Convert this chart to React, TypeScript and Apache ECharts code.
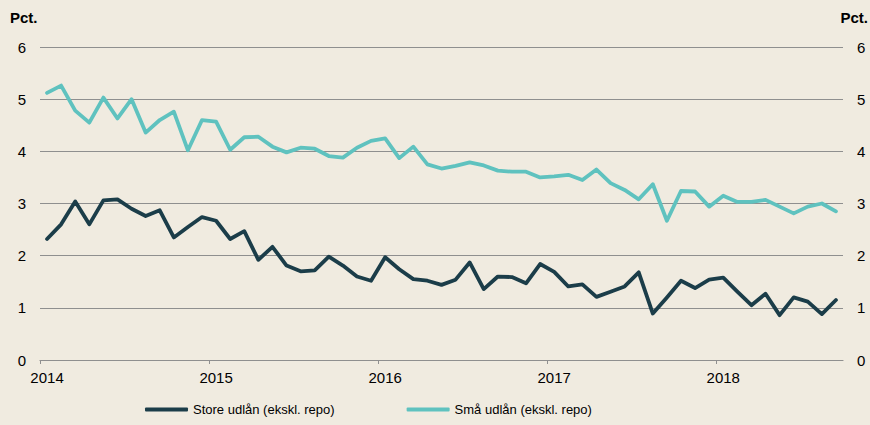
import React, { useEffect, useRef } from "react";
import * as echarts from "echarts";

const startYear = 2014;
const yearTicks = [0, 12, 24, 36, 48];
const yearLabelPos = [0.5, 12.5, 24.5, 36.5, 48.5];

const storeUdlaan = [
  2.32, 2.6, 3.04, 2.6, 3.06, 3.08, 2.9, 2.76, 2.87, 2.35, 2.55, 2.74,
  2.67, 2.32, 2.47, 1.92, 2.17, 1.81, 1.7, 1.72, 1.98, 1.81, 1.6, 1.52,
  1.97, 1.74, 1.55, 1.52, 1.44, 1.54, 1.87, 1.36, 1.6, 1.59, 1.47, 1.84,
  1.69, 1.41, 1.45, 1.21, 1.31, 1.41, 1.68, 0.89, 1.2, 1.52, 1.38, 1.54,
  1.58, 1.31, 1.05, 1.27, 0.86, 1.2, 1.12, 0.88, 1.15,
];

const smaaUdlaan = [
  5.12, 5.26, 4.78, 4.55, 5.03, 4.63, 5.0, 4.36, 4.6, 4.76, 4.02, 4.6,
  4.57, 4.03, 4.27, 4.28, 4.09, 3.98, 4.07, 4.05, 3.91, 3.88, 4.07, 4.2,
  4.25, 3.87, 4.09, 3.75, 3.67, 3.72, 3.79, 3.73, 3.63, 3.61, 3.61, 3.5,
  3.52, 3.55, 3.45, 3.65, 3.39, 3.26, 3.08, 3.37, 2.67, 3.24, 3.23, 2.94,
  3.15, 3.03, 3.03, 3.07, 2.94, 2.81, 2.94, 3.0, 2.85,
];

const seriesNames = ["Store udlån (ekskl. repo)", "Små udlån (ekskl. repo)"];
const unitLabel = "Pct.";

const FONT = "'Liberation Sans', Arial, sans-serif";
const DARK = "#1b3d49";
const TEAL = "#5fc2bf";
const GRID = "#8f8f8f";

export default function App() {
  const ref = useRef<HTMLDivElement>(null);

  useEffect(() => {
    if (!ref.current) return;
    const chart = echarts.init(ref.current, undefined, { renderer: "svg" });
    const nMonths = storeUdlaan.length;
    const toPairs = (arr: number[]) => arr.map((v, i) => [i + 0.5, v]);

    const yAxisCommon = {
      type: "value" as const,
      min: 0,
      max: 6,
      interval: 1,
      axisLine: { show: false },
      axisTick: { show: false },
      axisLabel: { color: "#000", fontSize: 15, fontFamily: FONT, margin: 14 },
    };

    chart.setOption({
      animation: false,
      backgroundColor: "#f0ebe0",
      textStyle: { fontFamily: FONT },
      grid: { left: 40, right: 27, top: 47, bottom: 65, containLabel: false },
      xAxis: {
        type: "value",
        min: 0,
        max: nMonths,
        axisLine: { show: true, lineStyle: { color: GRID, width: 1.2 } },
        axisTick: {
          show: true,
          customValues: yearTicks,
          length: 4,
          lineStyle: { color: GRID, width: 1 },
        },
        axisLabel: {
          customValues: yearLabelPos,
          formatter: (v: number) => String(startYear + Math.floor(v / 12)),
          color: "#000",
          fontSize: 15,
          fontFamily: FONT,
          margin: 10,
        },
        splitLine: { show: false },
      },
      yAxis: [
        {
          ...yAxisCommon,
          position: "left",
          splitLine: { show: true, lineStyle: { color: GRID, width: 1.2 } },
        },
        {
          ...yAxisCommon,
          position: "right",
          splitLine: { show: false },
        },
      ],
      legend: {
        bottom: 4,
        left: 140,
        icon: "roundRect",
        itemWidth: 43,
        itemHeight: 4,
        itemGap: 72,
        textStyle: { color: "#000", fontSize: 13, fontFamily: FONT },
        data: seriesNames,
      },
      graphic: [
        {
          type: "text",
          left: 10,
          top: 10,
          style: { text: unitLabel, font: `bold 15px ${FONT}`, fill: "#000" },
        },
        {
          type: "text",
          right: 2,
          top: 10,
          style: { text: unitLabel, font: `bold 15px ${FONT}`, fill: "#000" },
        },
      ],
      series: [
        {
          name: seriesNames[0],
          type: "line",
          yAxisIndex: 0,
          data: toPairs(storeUdlaan),
          showSymbol: false,
          symbol: "none",
          lineStyle: { color: DARK, width: 3.8, join: "round", cap: "round" },
          itemStyle: { color: DARK },
        },
        {
          name: seriesNames[1],
          type: "line",
          yAxisIndex: 0,
          data: toPairs(smaaUdlaan),
          showSymbol: false,
          symbol: "none",
          lineStyle: { color: TEAL, width: 3.8, join: "round", cap: "round" },
          itemStyle: { color: TEAL },
        },
      ],
    });
    return () => chart.dispose();
  }, []);

  return (
    <div
      ref={ref}
      style={{ width: 870, height: 425, position: "absolute", left: 0, top: 0 }}
    />
  );
}
